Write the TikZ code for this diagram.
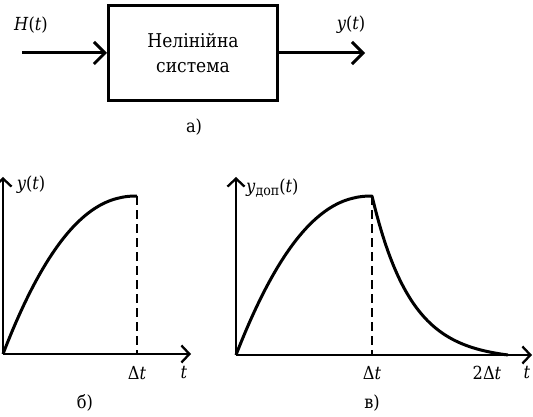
\documentclass[tikz,border=0pt]{standalone}
\usepackage{fontspec}
\IfFontExistsTF{DejaVu Serif Condensed}{\setmainfont{DejaVu Serif Condensed}}{\setmainfont{DejaVu Serif}}
\usetikzlibrary{arrows.meta}
\begin{document}
\begin{tikzpicture}[x=1pt,y=-1pt,
  every node/.style={font=\fontsize{18}{22}\selectfont, inner sep=0pt},
  sig/.style={line width=3pt, -{Straight Barb[length=11pt,width=22pt,line width=3pt]}},
  axis/.style={line width=2.3pt, -{Straight Barb[length=8pt,width=17pt,line width=2.3pt]}},
  curve/.style={line width=3pt, line join=round},
  guide/.style={line width=2.3pt, dash pattern=on 9pt off 5pt},
  sysbox/.style={draw, line width=3pt, minimum width=169pt, minimum height=95pt, align=center, font=\fontsize{19}{25}\selectfont}
]
\useasboundingbox (0,0) rectangle (533,417);

% --- a) block diagram
\node[sysbox] (sys) at (193,53) {Нелінійна\\система};
\coordinate (in) at (22,53);
\coordinate (out) at (365,53);
\draw[sig] (in) -- (sys.west);
\draw[sig] (sys.east) -- (out);
\node (hlab) at (31,25) {\textit{H}(\textit{t})};
\node (ylab) at (351,25) {\textit{y}(\textit{t})};
\node (capa) at (194,127) {а)};

% --- б) left graph
\coordinate (o1) at (3,354);
\coordinate (y1) at (3,177);
\coordinate (x1) at (191,354);
\coordinate (p1) at (137,196);
\coordinate (d1) at (137,354);
\draw[axis] (o1) -- (y1);
\draw[axis] (o1) -- (x1);
\draw[curve] plot[domain=0:0.99, samples=60] ({3+134*\x},{354-158*(1-(1-\x)^2.2)}) -- (p1);
\draw[guide] (p1) -- (d1);
\node (yt1) at (31,185) {\textit{y}(\textit{t})};
\node (dt1) at (137,373) {Δ\textit{t}};
\node (t1) at (184,373) {\textit{t}};
\node (capb) at (85,403) {б)};

% --- в) right graph
\coordinate (o2) at (236,355);
\coordinate (y2) at (236,177);
\coordinate (x2) at (532,355);
\coordinate (p2) at (372,196);
\coordinate (d2) at (372,355);
\draw[axis] (o2) -- (y2);
\draw[axis] (o2) -- (x2);
\draw[curve] plot[domain=0:0.99, samples=60] ({236+136*\x},{355-159*(1-(1-\x)^2.2)}) -- (p2)
  -- plot[domain=0:1, samples=60] ({372+136*\x},{196+159*(1-(exp(-3.5*\x)-exp(-3.5))/(1-exp(-3.5)))});
\draw[guide] (p2) -- (d2);
\node[anchor=west] (yt2) at (246,188) {\textit{y}\raisebox{-0.35ex}{\fontsize{14}{16}\selectfont доп}(\textit{t})};
\node (dt2) at (372,373) {Δ\textit{t}};
\node (dt3) at (487,373) {2Δ\textit{t}};
\node (t2) at (527,373) {\textit{t}};
\node (capv) at (372,403) {в)};
\end{tikzpicture}
\end{document}
